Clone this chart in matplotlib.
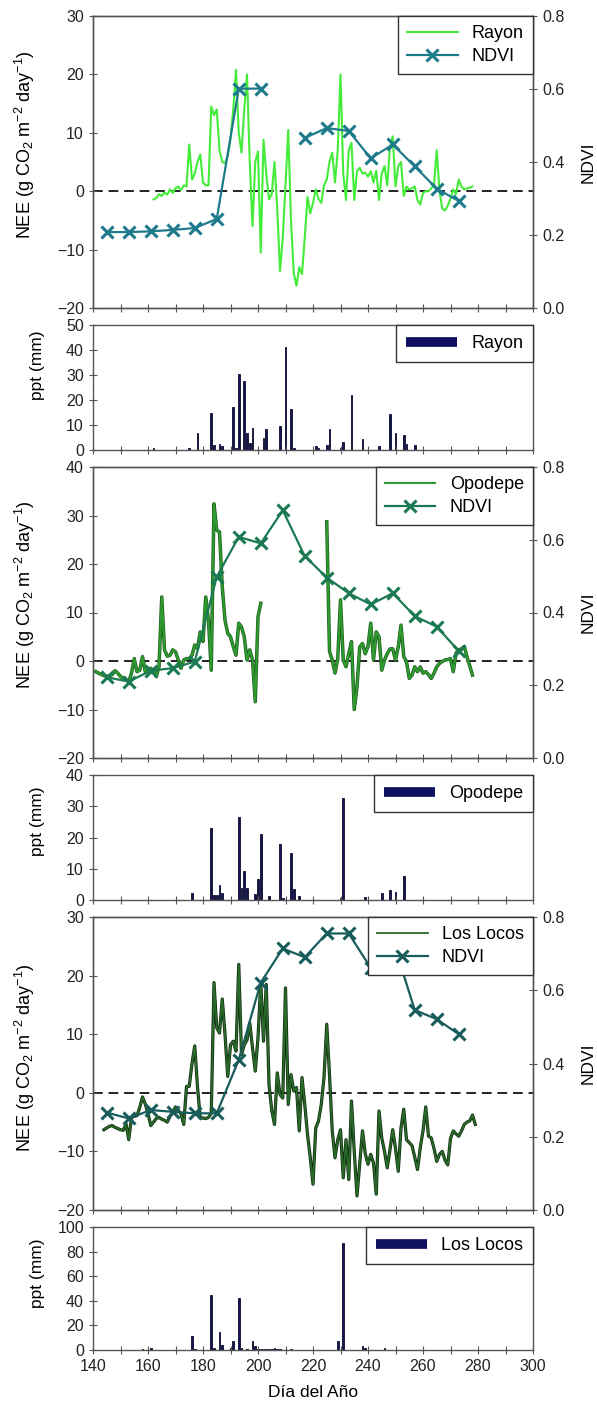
import numpy as np
import matplotlib
matplotlib.use("Agg")
import matplotlib.pyplot as plt
from matplotlib.lines import Line2D

plt.rcParams['font.family'] = ['Liberation Sans', 'DejaVu Sans']
plt.rcParams['mathtext.default'] = 'regular'

# ---------------- data ----------------
ndvi_days = [145, 153, 161, 169, 177, 185, 193, 201, 209, 217, 225, 233, 241, 249, 257, 265, 273]

# Rayon
rayon_days = list(range(162, 279))
rayon_nee = [-1.4, -1.2, -0.5, -0.8, -0.2, -0.6, 0.3, -0.3, 0.5, 0.8, 0.2, 1.0, 0.8,
             8.0, 2.0, 3.0, 5.0, 6.3, 1.5, 1.0, 1.0, 14.5, 13.0, 14.0, 7.0, 5.0, 4.8,
             6.0, 9.0, 14.0, 20.8, 10.0, 6.6, 14.0, 20.0, 5.0, -6.0, 5.0, 6.8, -10.5,
             8.8, 3.0, -1.4, -0.5, 5.0, -3.0, -13.7, -8.0, 1.0, 10.5, -5.0, -14.0,
             -16.2, -13.0, -14.2, -8.0, -1.0, -3.8, -2.0, 0.3, -1.3, -2.0, 1.0, 2.0,
             5.0, 6.6, 1.5, 7.0, 20.0, 3.0, -1.5, 7.0, 8.3, -1.5, 3.4, 4.0, 3.0, 3.2,
             2.5, 3.4, 1.5, 3.5, -1.5, 3.0, 4.3, 1.0, 7.7, 9.4, 0.8, 4.3, 5.0, -0.8,
             0.8, 0.3, 0.5, 0.8, -1.5, -2.3, -0.3, 0.0, 0.0, 0.5, 1.0, 7.0, 0.0, -3.0,
             -3.3, -2.5, -1.3, 0.3, -0.5, 2.0, 0.8, 0.3, 0.5, 0.6, 0.8]
# Rayon NDVI: composite 209 missing
rayon_ndvi = [0.208, 0.208, 0.210, 0.214, 0.219, 0.244, 0.601, 0.601, np.nan, 0.466,
              0.493, 0.485, 0.410, 0.448, 0.388, 0.327, 0.293]
rayon_ppt_days = [162, 175, 178, 183, 184, 186, 187, 191, 192, 193, 195, 196, 197, 198,
                  202, 203, 208, 210, 212, 213, 221, 222, 225, 226, 230, 231, 234, 238,
                  244, 248, 250, 253, 254, 257]
rayon_ppt = [0.8, 1.0, 7.0, 15.0, 2.0, 2.4, 1.5, 17.3, 1.0, 30.4, 27.6, 7.0, 3.0, 9.0,
             4.7, 8.4, 9.6, 41.3, 16.3, 1.0, 1.5, 1.0, 2.0, 8.3, 1.0, 3.3, 22.0, 4.4,
             1.8, 14.3, 7.0, 6.1, 2.5, 2.0]

# Opodepe (gap 202-224)
opo_days = list(range(141, 202)) + [202] + list(range(225, 279))
opo_nee = [-2.2, -2.5, -2.8, -3.0, -3.2, -3.0, -2.8, -2.0, -2.5, -3.2, -3.5, -3.8, -4.3,
           -2.5, 0.5, -2.2, -1.9, 0.9, -2.2, -1.9, -1.5, -2.0, -3.2, -1.2, 13.2, 2.3,
           1.0, 1.2, 2.3, 1.9, 0.2, -1.5, 0.2, 0.5, 0.5, 1.2, 3.3, 2.6, 6.0, 4.0, 13.2,
           8.4, -1.9, 32.4, 27.0, 26.6, 15.3, 8.4, 5.7, 5.0, 3.0, 1.2, 7.8, 7.0, 5.0,
           0.2, 2.3, 0.2, -8.4, 9.1, 11.9,
           np.nan,
           28.7, 2.0, 0.2, -2.5, 0.5, 12.6, 0.2, -1.2, 1.5, 4.0, -10.0, -5.3, 2.9, 3.6,
           1.5, 3.0, 7.8, 0.2, 6.0, 5.0, -1.9, 0.2, 1.5, 2.5, 2.5, 0.2, 2.9, 7.4, 0.9,
           -0.1, -3.6, -2.9, -1.2, -2.2, -1.2, -2.5, -2.2, -2.8, -3.6, -2.5, -1.2, -0.5,
           -0.1, 0.2, 0.3, 0.5, -2.2, 1.6, 2.3, 2.5, 3.0, 0.9, -1.0, -2.9]
opo_ndvi = [0.222, 0.210, 0.240, 0.247, 0.265, 0.498, 0.608, 0.590, 0.681, 0.555, 0.496,
            0.453, 0.422, 0.453, 0.390, 0.361, 0.294]
opo_ppt_days = [176, 183, 184, 185, 186, 187, 193, 194, 195, 196, 199, 200, 201, 204,
                208, 209, 212, 213, 215, 230, 231, 239, 245, 248, 250, 253]
opo_ppt = [2.1, 22.9, 1.5, 1.5, 4.8, 2.1, 26.5, 3.7, 9.3, 4.0, 2.0, 6.6, 21.1, 1.4,
           17.9, 0.5, 15.0, 3.4, 1.3, 0.5, 32.7, 1.0, 2.1, 3.2, 2.7, 7.7]

# Los Locos
locos_days = list(range(144, 280))
locos_nee = [-6.3, -6.0, -5.7, -5.6, -5.9, -6.1, -6.3, -6.4, -5.3, -8.0, -4.2, -4.0,
             -3.9, -2.5, -0.7, -1.9, -3.5, -5.6, -5.0, -4.4, -4.2, -4.5, -4.7, -5.0,
             -4.0, -3.3, -2.4, -3.0, -3.6, -5.4, 1.1, 1.1, 5.0, 8.0, 1.0, -4.3, -4.3,
             -4.4, -4.2, -3.5, 18.8, 11.1, 10.2, 16.0, 10.0, 2.8, 8.2, 8.8, 7.1, 21.9,
             6.5, 8.2, 9.0, 11.9, 7.7, 3.7, 9.4, 18.8, 8.8, 18.5, 1.4, -3.0, -5.4, 3.4,
             -0.3, -0.9, 17.9, -2.0, 3.1, 0.3, 0.9, -6.5, 2.6, -2.0, -7.1, -11.0, -15.6,
             -6.0, -4.8, -2.0, 2.6, 11.7, 3.0, -6.5, -11.1, -8.0, -6.3, -14.5, -8.0,
             -14.8, -1.4, -10.0, -17.6, -12.0, -6.5, -10.4, -12.2, -10.5, -12.0, -17.3,
             -3.1, -7.7, -10.0, -12.8, -9.7, -6.3, -9.5, -13.4, -6.0, -2.8, -8.0, -8.5,
             -9.0, -11.0, -13.1, -9.4, -6.5, -2.4, -7.4, -7.7, -9.5, -11.7, -10.5, -10.0,
             -11.5, -12.3, -7.8, -6.5, -7.0, -7.4, -6.5, -5.4, -5.0, -4.8, -3.8, -5.4]
locos_ndvi = [0.266, 0.250, 0.273, 0.268, 0.264, 0.264, 0.410, 0.621, 0.714, 0.690,
              0.755, 0.755, 0.661, 0.737, 0.546, 0.521, 0.480]
locos_ppt_days = [158, 161, 176, 177, 183, 184, 186, 187, 190, 191, 193, 194, 196, 198,
                  199, 200, 201, 202, 203, 204, 205, 206, 207, 208, 212, 229, 231, 238,
                  239, 246]
locos_ppt = [1.0, 1.5, 11.0, 1.0, 45.0, 2.0, 14.5, 4.0, 2.0, 7.4, 42.3, 1.5, 1.0, 7.7,
             3.0, 1.0, 1.0, 1.0, 1.0, 1.0, 1.0, 1.5, 1.0, 1.0, 1.0, 7.4, 87.0, 3.0,
             1.5, 2.0]

# ---------------- layout ----------------
W, H = 597, 1412
fig = plt.figure(figsize=(W / 100, H / 100), dpi=100)

def px_axes(top, bottom):
    return fig.add_axes([93 / W, 1 - bottom / H, 440 / W, (bottom - top) / H])

nee_label = 'NEE (g CO$_2$ m$^{-2}$ day$^{-1}$)'
spine_col = '#555555'
bar_col = '#141450'


def style(ax, bottom_labels=False):
    for s in ax.spines.values():
        s.set_color(spine_col)
        s.set_linewidth(1.0)
    ax.set_xlim(140, 300)
    ax.set_xticks(range(140, 301, 10))
    if bottom_labels:
        ax.set_xticklabels([str(t) if t % 20 == 0 else '' for t in range(140, 301, 10)])
    else:
        ax.set_xticklabels([])
    ax.tick_params(direction='inout', length=6, width=0.8, color=spine_col,
                   labelsize=11.5, labelcolor='#222222')


def nee_panel(top, bottom, days, nee, ndvi, ylim, yticks, name, nee_col, ndvi_col, lw,
              edge=None, lab_y=0.5):
    ax = px_axes(top, bottom)
    ax.axhline(0, color='#222222', ls=(0, (5, 3)), lw=1.4, zorder=1)
    if edge is not None:
        ax.plot(days, nee, color=edge, lw=lw + 1.0, zorder=2)
    l1, = ax.plot(days, nee, color=nee_col, lw=lw, zorder=3, label=name)
    ax.set_ylim(*ylim)
    ax.set_yticks(yticks)
    ax.set_ylabel(nee_label, fontsize=13)
    ax.yaxis.set_label_coords(-0.128, lab_y)
    style(ax)
    ax2 = ax.twinx()
    l2, = ax2.plot(ndvi_days, ndvi, color=ndvi_col, lw=1.6, marker='x', ms=8, mew=2.2,
                   label='NDVI')
    ax2.set_ylim(0, 0.8)
    ax2.set_yticks([0, 0.2, 0.4, 0.6, 0.8])
    ax2.set_yticklabels(['0.0', '0.2', '0.4', '0.6', '0.8'])
    ax2.set_ylabel('NDVI', fontsize=12.5, labelpad=12)
    style(ax2)
    leg = ax2.legend(handles=[l1, l2], loc='upper right', fontsize=13, fancybox=False,
                     borderaxespad=0, handlelength=2.8, framealpha=1, borderpad=0.5,
                     labelspacing=0.35, numpoints=1)
    leg.get_frame().set_edgecolor('#333333')
    leg.get_frame().set_linewidth(1.0)
    return ax


def ppt_panel(top, bottom, days, ppt, ymax, ystep, name, lab_y, bottom_labels=False):
    ax = px_axes(top, bottom)
    ax.bar(days, ppt, width=0.7, color=bar_col, edgecolor='#0a0a30', linewidth=0.6)
    ax.set_ylim(0, ymax)
    ax.set_yticks(range(0, ymax + 1, ystep))
    ax.set_ylabel('ppt (mm)', fontsize=12.5)
    ax.yaxis.set_label_coords(-0.108, lab_y)
    style(ax, bottom_labels)
    h = Line2D([], [], color='#101060', lw=7, solid_capstyle='butt')
    leg = ax.legend(handles=[h], labels=[name], loc='upper right', fontsize=13,
                    fancybox=False, borderaxespad=0, handlelength=2.8, framealpha=1,
                    borderpad=0.55)
    leg.get_frame().set_edgecolor('#333333')
    leg.get_frame().set_linewidth(1.0)
    return ax


nee_panel(16, 308, rayon_days, rayon_nee, rayon_ndvi, (-20, 30), range(-20, 31, 10),
          'Rayon', '#44ec3a', '#1e7b8c', 1.5, lab_y=0.56)
ppt_panel(325, 450, rayon_ppt_days, rayon_ppt, 50, 10, 'Rayon', 0.68)
nee_panel(467, 758, opo_days, opo_nee, opo_ndvi, (-20, 40), range(-20, 41, 10),
          'Opodepe', '#2f9a2f', '#1b7a52', 1.5, edge='#1d5e1d', lab_y=0.56)
ppt_panel(775, 900, opo_ppt_days, opo_ppt, 40, 10, 'Opodepe', 0.63)
nee_panel(917, 1210, locos_days, locos_nee, locos_ndvi, (-20, 30), range(-20, 31, 10),
          'Los Locos', '#2a6a2a', '#185c5c', 1.3, edge='#0d2a0d', lab_y=0.52)
ax6 = ppt_panel(1227, 1350, locos_ppt_days, locos_ppt, 100, 20, 'Los Locos', 0.62,
                bottom_labels=True)
ax6.set_xlabel('Día del Año', fontsize=12.5, labelpad=8)

fig.savefig('out.png', dpi=100)
